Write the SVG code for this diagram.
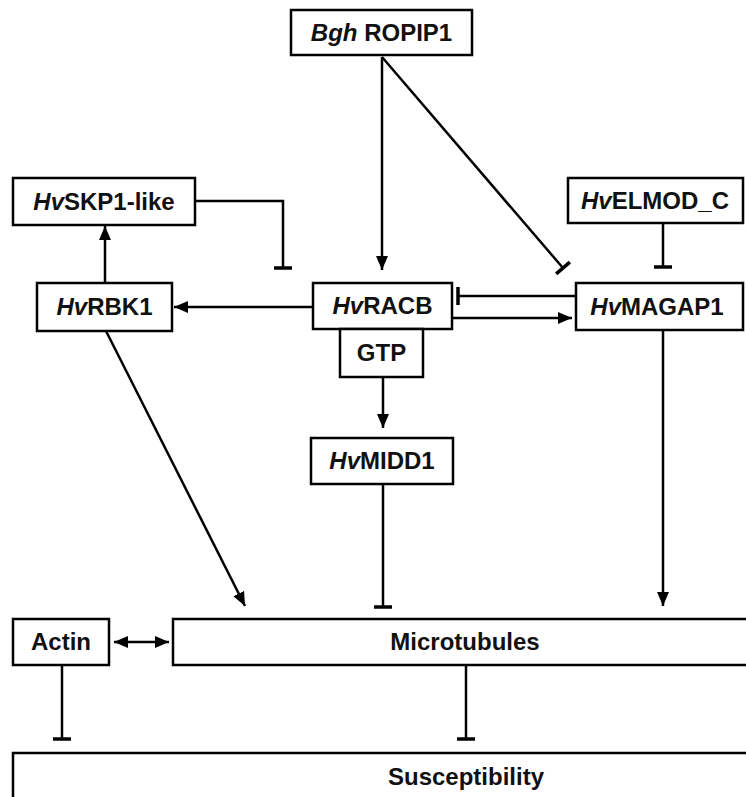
<svg xmlns="http://www.w3.org/2000/svg" width="746" height="797" viewBox="0 0 746 797">
<style>
.box{fill:#fff;stroke:#000;stroke-width:2.5}
.lbl{font-family:"Liberation Sans",Arial,sans-serif;font-weight:bold;font-size:24px;fill:#111;text-anchor:middle}
.it{font-style:italic}
.edge{fill:none;stroke:#000;stroke-width:2.5}
</style>
<defs>
<marker id="arr" markerUnits="userSpaceOnUse" markerWidth="16" markerHeight="14" refX="14" refY="7" orient="auto">
<path d="M0,1 L14,7 L0,13 Z" fill="#000"/>
</marker>
<marker id="arrs" markerUnits="userSpaceOnUse" markerWidth="16" markerHeight="14" refX="0" refY="7" orient="auto">
<path d="M14,1 L0,7 L14,13 Z" fill="#000"/>
</marker>
<marker id="tee" markerUnits="userSpaceOnUse" markerWidth="6" markerHeight="22" refX="3" refY="11" orient="auto">
<line x1="3" y1="2" x2="3" y2="20" stroke="#000" stroke-width="3.5"/>
</marker>
</defs>
<g id="connectors">
<path class="edge" d="M382,57 L382,270" marker-end="url(#arr)"/>
<path class="edge" d="M382,57 L563,268" marker-end="url(#tee)"/>
<path class="edge" d="M195,201 L283,201 L283,268" marker-end="url(#tee)"/>
<path class="edge" d="M105,283 L105,226" marker-end="url(#arr)"/>
<path class="edge" d="M313,307 L174,307" marker-end="url(#arr)"/>
<path class="edge" d="M452,318 L572,318" marker-end="url(#arr)"/>
<path class="edge" d="M576,296 L458,296" marker-end="url(#tee)"/>
<path class="edge" d="M663,223 L663,267" marker-end="url(#tee)"/>
<path class="edge" d="M383,377 L383,428" marker-end="url(#arr)"/>
<path class="edge" d="M106,331 L245,606" marker-end="url(#arr)"/>
<path class="edge" d="M383,484 L383,607" marker-end="url(#tee)"/>
<path class="edge" d="M663,330 L663,606" marker-end="url(#arr)"/>
<path class="edge" d="M114,642 L169,642" marker-start="url(#arrs)" marker-end="url(#arr)"/>
<path class="edge" d="M62,665 L62,739" marker-end="url(#tee)"/>
<path class="edge" d="M466,665 L466,739" marker-end="url(#tee)"/>
</g>
<g id="ropip1"><rect class="box" x="291" y="10" width="181" height="45"/><text class="lbl" x="381.5" y="41"><tspan class="it">Bgh</tspan> ROPIP1</text></g>
<g id="skp1"><rect class="box" x="13" y="178" width="182" height="47"/><text class="lbl" x="104" y="210"><tspan class="it">Hv</tspan>SKP1-like</text></g>
<g id="elmod"><rect class="box" x="568" y="178" width="175" height="45"/><text class="lbl" x="655" y="209"><tspan class="it">Hv</tspan>ELMOD_C</text></g>
<g id="rbk1"><rect class="box" x="37" y="283" width="135" height="48"/><text class="lbl" x="104.5" y="315"><tspan class="it">Hv</tspan>RBK1</text></g>
<g id="racb"><rect class="box" x="313" y="283" width="139" height="46"/><text class="lbl" x="382.5" y="314"><tspan class="it">Hv</tspan>RACB</text></g>
<g id="gtp"><rect class="box" x="340" y="329" width="83" height="48"/><text class="lbl" x="381.5" y="361">GTP</text></g>
<g id="magap1"><rect class="box" x="576" y="283" width="167" height="47"/><text class="lbl" x="657" y="315"><tspan class="it">Hv</tspan>MAGAP1</text></g>
<g id="midd1"><rect class="box" x="311" y="438" width="142" height="46"/><text class="lbl" x="382" y="469"><tspan class="it">Hv</tspan>MIDD1</text></g>
<g id="actin"><rect class="box" x="13" y="619" width="96" height="46"/><text class="lbl" x="61" y="650">Actin</text></g>
<g id="microtubules"><rect class="box" x="173" y="619" width="600" height="46"/><text class="lbl" x="465" y="650">Microtubules</text></g>
<g id="susceptibility"><rect class="box" x="13" y="753" width="760" height="70"/><text class="lbl" x="466" y="785">Susceptibility</text></g>
</svg>
